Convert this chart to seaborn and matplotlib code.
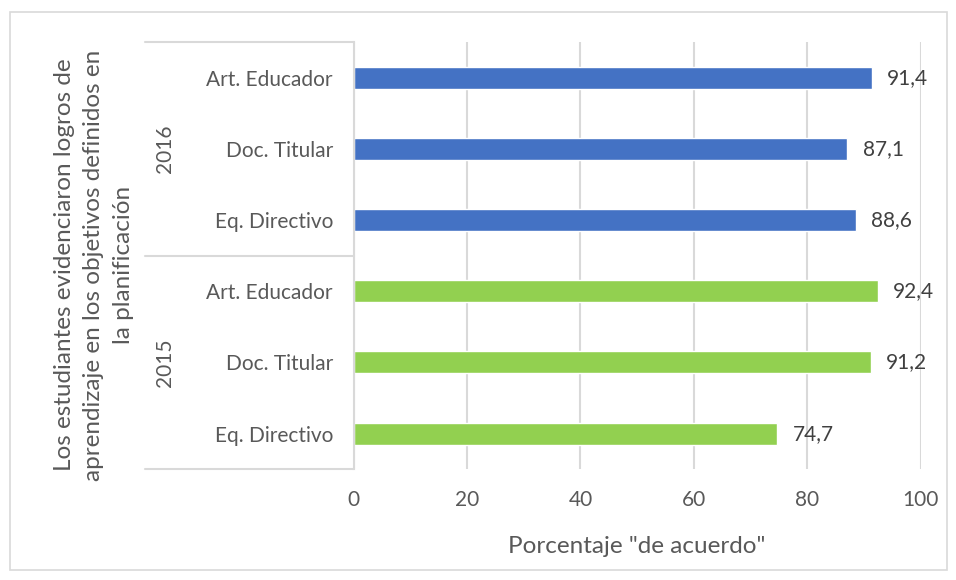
import matplotlib
matplotlib.use('Agg')
import matplotlib.pyplot as plt
import matplotlib.patches as mpatches
import seaborn as sns
import pandas as pd

# Datos
grupos = ['Art. Educador', 'Doc. Titular', 'Eq. Directivo']
anios = ['2016', '2015']
valores_2016 = [91.4, 87.1, 88.6]
valores_2015 = [92.4, 91.2, 74.7]
colores = {'2016': '#4472C4', '2015': '#92D050'}

filas = []
for anio, vals in zip(anios, [valores_2016, valores_2015]):
    for g, v in zip(grupos, vals):
        filas.append({'clave': f'{anio}-{g}', 'grupo': g, 'anio': anio, 'valor': v})
df = pd.DataFrame(filas)

sns.set_style('white')
plt.rcParams['font.family'] = ['Lato', 'DejaVu Sans']
gris = '#595959'
linea = '#d9d9d9'

fig = plt.figure(figsize=(9.56, 5.8), dpi=100)
ax = fig.add_axes([0.370, 0.191, 0.593, 0.7365])

sns.barplot(data=df, x='valor', y='clave', hue='anio', palette=colores,
            dodge=False, width=0.31, saturation=1, legend=False, ax=ax)

# Etiquetas de valores
for cont in ax.containers:
    ax.bar_label(cont, labels=[f'{b.get_width():.1f}'.replace('.', ',') for b in cont],
                 padding=11, fontsize=15, color='#404040')

ax.set_xlim(0, 100)
ax.set_xticks(range(0, 101, 20))
ax.set_ylim(5.5, -0.5)
ax.set_yticks(range(len(df)))
ax.set_yticklabels(df['grupo'], fontsize=15, color=gris)
ax.tick_params(axis='y', length=0, pad=15)
ax.tick_params(axis='x', length=0, pad=15, labelsize=15, labelcolor=gris)
ax.xaxis.grid(True, color=linea, linewidth=1.5)
ax.set_axisbelow(True)

for s in ['top', 'right', 'bottom']:
    ax.spines[s].set_visible(False)
ax.spines['left'].set_color(linea)
ax.spines['left'].set_linewidth(1.5)

ax.set_xlabel('Porcentaje "de acuerdo"', fontsize=17.5, color=gris, labelpad=19)
ax.set_ylabel('')

# Lineas de agrupacion y etiquetas de anio
trans = ax.get_yaxis_transform()
for yb in [-0.5, 2.5, 5.5]:
    ax.plot([-0.369, 0], [yb, yb], color=linea, linewidth=1.5, transform=trans, clip_on=False)
for i, anio in enumerate(anios):
    ax.text(-0.333, 1 + 3 * i, anio, rotation=90, ha='center', va='center',
            fontsize=15, color=gris, transform=trans)

fig.text(0.098, 0.543,
         'Los estudiantes evidenciaron logros de\naprendizaje en los objetivos definidos en\nla planificación',
         rotation=90, ha='center', va='center', fontsize=17.5, color=gris, linespacing=1.5)

# Borde del grafico
fig.patches.append(mpatches.Rectangle((0.010, 0.017), 0.981, 0.963, transform=fig.transFigure,
                                      fill=False, edgecolor=linea, linewidth=1.2))

fig.savefig('out.png', dpi=100)
